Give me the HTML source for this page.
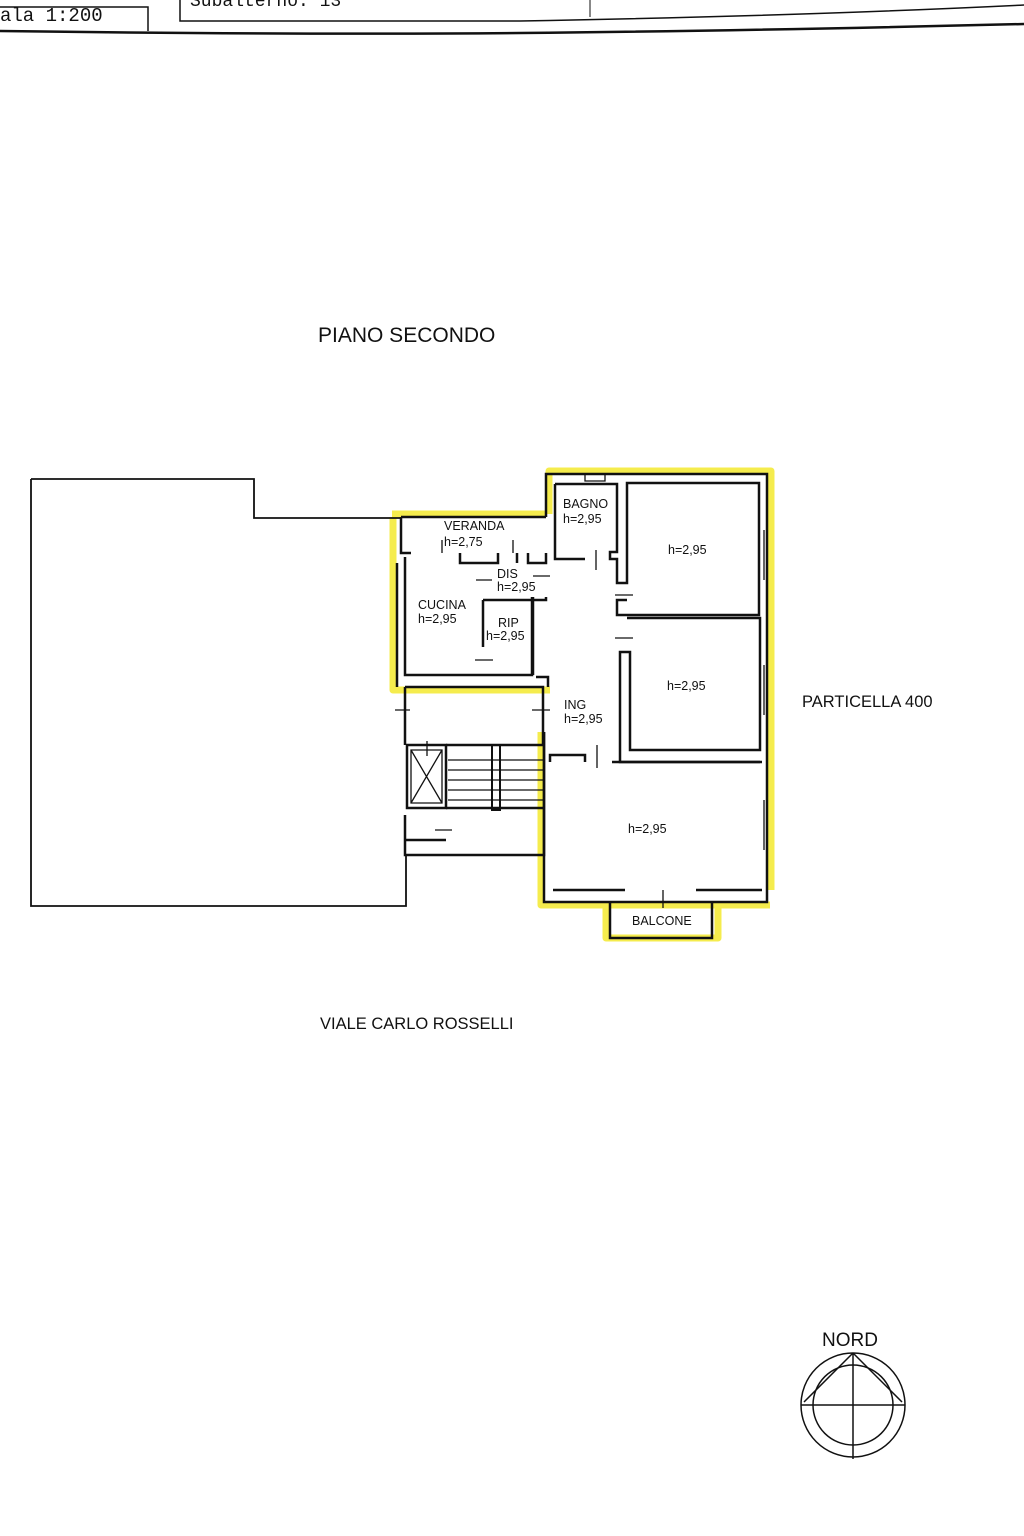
<!DOCTYPE html>
<html><head><meta charset="utf-8"><style>
html,body{margin:0;padding:0;background:#fff;}
svg{display:block}
text{font-family:"Liberation Sans",sans-serif;fill:#111}
.m{font-family:"Liberation Mono",monospace}
</style></head><body>
<svg width="1024" height="1536" viewBox="0 0 1024 1536" xmlns="http://www.w3.org/2000/svg">
<rect width="1024" height="1536" fill="#fff"/>
<g stroke="#111" fill="none">
<path d="M0 31 Q300 35 520 33 T1024 24" stroke-width="2.5"/>
<path d="M0 7 H148 V31" stroke-width="1.5"/>
<path d="M180 0 V21 H520 Q800 16 1024 5" stroke-width="1.5"/>
<path d="M590 0 V17" stroke-width="1"/>
</g>
<text x="0" y="21" class="m" font-size="19">ala 1:200</text>
<text x="190" y="6" class="m" font-size="18">Subalterno: 13</text>

<text x="318" y="342" font-size="21">PIANO SECONDO</text>
<text x="802" y="707" font-size="16.5">PARTICELLA 400</text>
<text x="320" y="1029" font-size="16.5">VIALE CARLO ROSSELLI</text>

<g stroke="#f4ea3a" fill="none" stroke-width="7" stroke-linejoin="round" opacity="0.9">
<path d="M549 514 V471 H771 V890"/>
<path d="M392 514 H546"/>
<path d="M393 517 V690 H550"/>
<path d="M541 732 V905 H770"/>
<path d="M606 905 V938 H718 V902"/>
</g>

<path d="M31 479 H254 V518 H400 M31 479 V906 H406 V855" stroke="#111" fill="none" stroke-width="1.8"/>

<g stroke="#111" fill="none" stroke-width="2.5">
<path d="M546 517 V474 H767 V902 H544 V732"/>
<path d="M555 484 V559 H585"/>
<path d="M555 484 H617 V552 H610 V559 H617 V583 H627 V483 H759 V615 H627"/>
<path d="M627 600 H617 V615 H627"/>
<path d="M627 618 H760 V750 H630 V652 H620 V762 H760"/>
<path d="M550 762 V755 H585 V762"/>
<path d="M612 762 H762"/>
<path d="M553 890 H625 M696 890 H762"/>
<path d="M610 902 V938 H712 V902"/>
<path d="M401 517 H546 M401 517 V553 H411"/>
<path d="M397 563 V687"/>
<path d="M405 557 V675 H532 V597"/>
<path d="M460 553 V563 H498 V553 M528 553 V563 H546 V553 M517 553 V563"/>
<path d="M483 600 V647 M483 600 H546 V597"/>
<path d="M533 597 V675 M536 677 H548 V687"/>
<path d="M405 687 H543 V745 M405 687 V745"/>
<path d="M544 732 V855 H405 V815"/>
<path d="M407 745 H446 V808 H407 Z"/>
<path d="M446 745 H543 M446 808 H543 M405 840 H446"/>
</g>
<g stroke="#111" fill="none" stroke-width="1.3">
<path d="M411 750 H442 V803 H411 Z M411 750 L442 803 M442 750 L411 803"/>
<path d="M448 760 H543 M448 770 H543 M448 780 H543 M448 790 H543 M448 800 H543"/>
<rect x="492" y="745" width="8" height="65" stroke-width="2"/>
<path d="M764 530 V580 M764 665 V715 M764 800 V850 M585 474 V481 H605 V474"/>
<path d="M596 550 V570 M597 745 V768 M442 540 V553 M513 540 V553"/>
<path d="M615 595 H633 M615 638 H633 M476 580 H492 M475 660 H493 M533 576 H550 M395 710 H410 M532 710 H550 M435 830 H452 M663 890 V908 M427 741 V756"/>
</g>

<g font-size="12.5">
<text x="444" y="530">VERANDA</text>
<text x="444" y="546">h=2,75</text>
<text x="563" y="508">BAGNO</text>
<text x="563" y="523">h=2,95</text>
<text x="497" y="578">DIS</text>
<text x="497" y="591">h=2,95</text>
<text x="418" y="609">CUCINA</text>
<text x="418" y="623">h=2,95</text>
<text x="498" y="627">RIP</text>
<text x="486" y="640">h=2,95</text>
<text x="564" y="709">ING</text>
<text x="564" y="723">h=2,95</text>
<text x="668" y="554">h=2,95</text>
<text x="667" y="690">h=2,95</text>
<text x="628" y="833">h=2,95</text>
<text x="632" y="925">BALCONE</text>
</g>

<text x="822" y="1346" font-size="19">NORD</text>
<g stroke="#111" fill="none" stroke-width="1.5">
<circle cx="853" cy="1405" r="52"/>
<circle cx="853" cy="1405" r="40"/>
<path d="M801 1405 H905 M853 1353 V1459 M853 1353 L804 1402 M853 1353 L902 1402"/>
</g>
</svg>
</body></html>
